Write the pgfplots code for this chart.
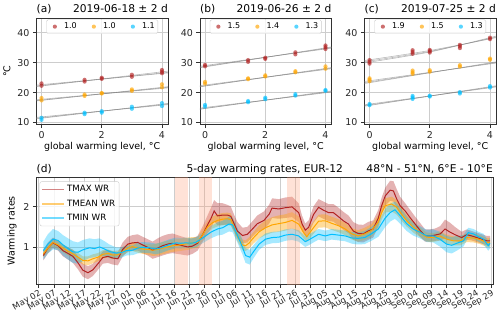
\documentclass[border=0pt]{standalone}
\usepackage{fontspec}
\setmainfont{DejaVu Sans}
\usepackage{pgfplots}
\pgfplotsset{compat=1.18}
\usepackage{pgfplotstable}
\usepgfplotslibrary{fillbetween}

\definecolor{cR}{HTML}{B22222}
\definecolor{cO}{HTML}{FFA500}
\definecolor{cB}{HTML}{00BFFF}
\definecolor{hw}{RGB}{255,160,122}
\definecolor{gridc}{RGB}{205,205,205}
\definecolor{framec}{RGB}{50,50,50}

\pgfplotstableread{
d m lo hi
1.5 0.80 0.68 0.94
3.0 0.98 0.85 1.12
4.7 1.11 0.98 1.24
6.4 1.04 0.92 1.16
8.0 0.92 0.78 1.06
9.7 0.85 0.70 1.00
11.3 0.78 0.62 0.94
13.0 0.62 0.46 0.78
14.6 0.44 0.28 0.60
16.3 0.38 0.22 0.54
17.9 0.45 0.30 0.60
19.6 0.60 0.45 0.75
21.2 0.75 0.60 0.90
22.9 0.78 0.62 0.94
24.5 0.74 0.58 0.90
26.2 0.72 0.56 0.88
27.8 0.95 0.78 1.12
29.5 1.08 0.90 1.26
31.1 1.11 0.92 1.30
32.8 1.12 0.92 1.32
34.4 1.06 0.86 1.26
36.1 1.00 0.80 1.20
37.7 0.93 0.72 1.14
39.4 0.98 0.76 1.22
41.0 1.04 0.80 1.28
42.7 1.08 0.84 1.32
44.3 1.10 0.86 1.34
45.9 1.07 0.84 1.30
47.6 1.04 0.82 1.26
49.3 1.01 0.80 1.22
50.9 1.03 0.84 1.22
52.6 1.10 0.92 1.28
54.2 1.30 1.12 1.50
55.9 1.55 1.34 1.78
57.0 1.70 1.46 1.96
58.1 1.89 1.64 2.16
59.2 1.77 1.54 2.08
60.9 1.79 1.55 2.08
62.5 1.79 1.56 2.04
63.6 1.76 1.55 2.00
64.7 1.58 1.40 1.80
65.8 1.40 1.22 1.62
67.5 1.29 1.10 1.48
69.1 1.32 1.12 1.50
70.8 1.45 1.26 1.64
72.4 1.58 1.38 1.78
74.6 1.66 1.44 1.88
76.3 1.81 1.58 2.04
77.3 1.96 1.72 2.20
79.5 1.94 1.70 2.18
81.7 1.97 1.72 2.22
83.9 1.99 1.74 2.24
86.1 1.85 1.62 2.08
87.2 1.58 1.40 1.78
88.3 1.42 1.28 1.58
89.4 1.49 1.32 1.66
91.0 1.80 1.60 2.00
92.7 1.98 1.76 2.18
94.3 1.91 1.70 2.12
96.0 1.85 1.64 2.06
97.6 1.85 1.63 2.06
99.3 1.75 1.53 1.97
100.9 1.65 1.43 1.87
102.6 1.57 1.35 1.78
104.2 1.40 1.19 1.62
105.8 1.34 1.13 1.56
107.5 1.33 1.12 1.55
109.1 1.40 1.18 1.62
110.8 1.45 1.24 1.66
112.5 1.72 1.52 1.92
113.6 2.02 1.82 2.22
114.8 2.26 2.02 2.46
116.4 2.40 2.14 2.63
117.5 2.38 2.12 2.62
118.6 2.18 1.96 2.42
119.7 2.02 1.82 2.24
121.4 1.89 1.70 2.08
123.0 1.73 1.55 1.92
124.7 1.57 1.40 1.75
126.3 1.42 1.26 1.60
128.0 1.28 1.14 1.44
129.6 1.28 1.14 1.44
131.3 1.30 1.16 1.46
133.0 1.33 1.17 1.52
134.6 1.45 1.22 1.68
136.3 1.37 1.18 1.60
137.9 1.31 1.16 1.50
140.1 1.24 1.12 1.38
141.8 1.31 1.19 1.44
143.4 1.28 1.17 1.40
145.1 1.24 1.13 1.36
146.8 1.20 1.09 1.32
148.4 1.16 1.05 1.28
149.5 1.16 1.04 1.28
}\tmax

\pgfplotstableread{
d m lo hi
1.5 0.84 0.76 0.92
3.0 0.98 0.88 1.08
4.7 1.12 1.02 1.22
6.4 1.06 0.96 1.16
8.0 0.98 0.88 1.08
9.7 0.90 0.80 1.00
11.3 0.84 0.74 0.94
13.0 0.76 0.66 0.86
14.6 0.68 0.58 0.78
16.3 0.67 0.56 0.78
17.9 0.72 0.61 0.83
19.6 0.76 0.66 0.86
21.2 0.83 0.73 0.93
22.9 0.85 0.75 0.95
24.5 0.81 0.71 0.91
26.2 0.82 0.72 0.92
27.8 0.90 0.80 1.00
29.5 0.98 0.88 1.08
31.1 1.02 0.91 1.13
32.8 0.98 0.87 1.09
34.4 0.96 0.84 1.08
36.1 0.95 0.82 1.08
37.7 0.93 0.79 1.07
39.4 0.95 0.80 1.10
41.0 0.98 0.83 1.13
42.7 1.01 0.86 1.16
44.3 1.04 0.89 1.19
45.9 1.05 0.90 1.20
47.6 1.07 0.92 1.22
49.3 1.09 0.94 1.24
50.9 1.11 0.97 1.25
52.6 1.12 0.99 1.25
54.2 1.30 1.16 1.44
55.9 1.50 1.36 1.64
57.5 1.60 1.46 1.75
59.2 1.66 1.51 1.81
60.9 1.69 1.54 1.84
62.5 1.70 1.55 1.85
63.6 1.68 1.53 1.83
64.7 1.50 1.36 1.65
65.8 1.28 1.15 1.42
67.5 1.06 0.93 1.19
68.5 1.04 0.91 1.17
69.6 1.10 0.97 1.24
71.2 1.24 1.10 1.38
73.0 1.38 1.22 1.54
75.1 1.48 1.30 1.66
77.3 1.55 1.36 1.74
79.5 1.58 1.38 1.78
81.7 1.61 1.41 1.81
83.9 1.66 1.46 1.86
86.1 1.57 1.38 1.76
87.7 1.37 1.22 1.52
88.8 1.26 1.13 1.40
91.0 1.48 1.33 1.63
92.7 1.64 1.48 1.80
94.9 1.65 1.49 1.81
97.0 1.59 1.43 1.75
99.3 1.53 1.37 1.69
101.5 1.45 1.30 1.60
103.7 1.33 1.19 1.47
105.8 1.28 1.14 1.42
108.0 1.33 1.18 1.48
110.2 1.41 1.25 1.57
112.5 1.62 1.45 1.79
113.6 1.85 1.68 2.02
114.8 2.02 1.85 2.20
116.9 2.06 1.88 2.24
118.6 1.98 1.80 2.16
120.2 1.81 1.65 1.97
121.9 1.65 1.51 1.79
124.1 1.49 1.36 1.62
126.3 1.37 1.25 1.49
128.5 1.25 1.14 1.36
130.7 1.24 1.13 1.35
132.9 1.28 1.17 1.39
135.1 1.20 1.09 1.31
137.4 1.16 1.05 1.27
139.6 1.16 1.05 1.27
141.8 1.24 1.13 1.35
144.0 1.23 1.12 1.34
146.2 1.19 1.08 1.30
148.4 1.12 1.01 1.23
149.5 1.12 1.01 1.23
}\tmean

\pgfplotstableread{
d m lo hi
1.5 0.92 0.70 1.14
3.0 1.08 0.85 1.32
4.7 1.20 0.95 1.45
6.4 1.17 0.93 1.40
8.0 1.06 0.80 1.30
9.7 0.97 0.70 1.22
11.3 0.89 0.62 1.15
13.0 0.88 0.60 1.12
14.6 0.94 0.66 1.18
16.8 0.99 0.74 1.22
18.5 0.97 0.76 1.20
20.1 1.01 0.80 1.22
21.8 0.96 0.78 1.15
23.4 0.90 0.74 1.07
25.6 0.86 0.72 1.00
27.3 0.87 0.74 1.00
28.9 0.92 0.80 1.04
31.1 0.93 0.81 1.05
32.7 0.98 0.85 1.11
34.4 1.00 0.87 1.13
36.6 0.99 0.86 1.12
38.8 0.96 0.83 1.09
40.5 0.99 0.86 1.12
43.0 1.06 0.93 1.19
45.4 1.11 0.98 1.24
47.1 1.10 0.97 1.23
48.7 1.11 0.98 1.24
50.4 1.10 0.98 1.22
52.0 1.12 1.00 1.24
54.5 1.24 1.11 1.37
57.0 1.37 1.22 1.52
59.2 1.45 1.29 1.61
60.9 1.48 1.31 1.65
63.0 1.57 1.39 1.75
64.2 1.55 1.37 1.73
65.8 1.30 1.12 1.48
67.4 1.02 0.84 1.20
68.5 0.80 0.62 0.98
69.9 0.76 0.58 0.94
71.2 0.90 0.74 1.06
73.0 1.08 0.94 1.22
75.1 1.20 1.06 1.34
77.3 1.24 1.10 1.38
79.5 1.25 1.11 1.39
81.7 1.30 1.16 1.44
83.9 1.32 1.18 1.46
86.1 1.28 1.14 1.42
88.3 1.14 1.01 1.27
89.4 1.18 1.05 1.31
91.0 1.25 1.12 1.38
92.7 1.32 1.19 1.45
94.9 1.28 1.15 1.41
97.0 1.32 1.19 1.45
99.3 1.30 1.17 1.43
101.5 1.28 1.15 1.41
103.7 1.23 1.09 1.37
105.8 1.22 1.07 1.37
108.0 1.24 1.08 1.40
110.2 1.33 1.16 1.50
112.5 1.45 1.26 1.64
114.8 1.72 1.50 1.94
116.4 1.85 1.63 2.07
118.0 1.92 1.70 2.12
119.7 1.78 1.58 1.98
121.9 1.58 1.40 1.76
124.0 1.45 1.29 1.61
126.3 1.37 1.22 1.52
128.5 1.28 1.13 1.43
130.7 1.28 1.12 1.44
132.9 1.20 1.02 1.38
135.1 1.08 0.88 1.28
136.8 1.05 0.85 1.25
138.5 1.10 0.92 1.28
140.7 1.16 1.02 1.30
142.3 1.36 1.24 1.48
144.0 1.33 1.21 1.45
145.7 1.26 1.14 1.38
147.4 1.20 1.07 1.33
148.9 1.04 0.92 1.16
149.5 1.10 0.97 1.23
}\tmin

\tikzset{ttl/.style={font=\fontsize{10.7}{12}\selectfont, inner sep=0pt}}

\pgfplotsset{
  mybase/.style={
    scale only axis,
    clip mode=individual,
    axis line style={framec, line width=0.8pt},
    tick style={framec, line width=0.8pt},
    tick align=outside,
    tick pos=left,
    major tick length=3.5pt,
    grid=major,
    major grid style={gridc, line width=0.8pt},
    /pgf/number format/assume math mode=true,
    tick label style={font=\fontsize{9.5}{10}\selectfont, text=black!85},
    label style={font=\fontsize{9.5}{10}\selectfont},
  },
  toppanel/.style={
    mybase,
    width=132pt, height=107pt,
    xmin=-0.17, xmax=4.2, ymin=9.3, ymax=45,
    xtick={0,2,4}, ytick={10,20,30,40},
    xlabel={global warming level, °C},
    xlabel style={yshift=3pt},
    legend columns=3,
    legend style={at={(0.5,0.985)}, anchor=north,
      font=\fontsize{8}{9}\selectfont, draw=gridc, rounded corners=1.5pt,
      inner sep=1.2pt, fill=white, fill opacity=0.8, text opacity=1,
      /tikz/every even column/.append style={column sep=8pt}},
  },
  gline/.style={gray, opacity=0.55, line width=0.6pt, forget plot},
  pts/.style={only marks, mark=*, mark size=2.1pt,
    mark options={draw opacity=0, fill opacity=0.65},
    legend image code/.code={\path (-7pt,-2pt) (7pt,2pt); \draw[##1] plot coordinates {(0pt,0pt)};}},
}

\begin{document}
\begin{tikzpicture}
\path (0pt,0pt) rectangle (500pt,319pt);

% ---------- (a)
\begin{axis}[toppanel, at={(35pt,194pt)}, anchor=south west, ylabel={°C}]
\addplot[gline] coordinates {(-0.2,22.2) (4.2,26.8)};
\addplot[gline] coordinates {(-0.2,22.5) (4.2,26.6)};
\addplot[gline] coordinates {(-0.2,22.0) (4.2,27.2)};
\addplot[gline] coordinates {(-0.2,17.3) (4.2,21.8)};
\addplot[gline] coordinates {(-0.2,17.6) (4.2,21.6)};
\addplot[gline] coordinates {(-0.2,17.2) (4.2,22.0)};
\addplot[gline] coordinates {(-0.2,11.4) (4.2,16.2)};
\addplot[gline] coordinates {(-0.2,11.7) (4.2,16.0)};
\addplot[gline] coordinates {(-0.2,11.2) (4.2,16.4)};
\addplot[pts, color=cR] coordinates {(0,22.3) (0,23.1) (1.43,23.7) (1.43,24.3) (2,24.6) (2,25.0) (3,25.3) (3,26.0) (4,26.5) (4,27.0) (4,27.6)};
\addlegendentry{1.0}
\addplot[pts, color=cO] coordinates {(0,17.4) (0,18.2) (1.43,18.9) (1.43,19.4) (2,19.7) (2,19.9) (3,20.6) (3,21.1) (4,21.8) (4,22.8)};
\addlegendentry{1.0}
\addplot[pts, color=cB] coordinates {(0,10.9) (0,11.6) (1.43,12.8) (1.43,13.3) (2,13.3) (2,13.8) (3,14.6) (3,15.3) (4,15.5) (4,16.5)};
\addlegendentry{1.1}
\node[ttl, anchor=base west] at (rel axis cs:0,1) [yshift=5pt] {(a)};
\node[ttl, anchor=base east] at (rel axis cs:1,1) [yshift=5pt] {2019-06-18 ± 2 d};
\end{axis}

% ---------- (b)
\begin{axis}[toppanel, at={(199pt,194pt)}, anchor=south west]
\addplot[gline] coordinates {(-0.2,28.5) (4.2,35.1)};
\addplot[gline] coordinates {(-0.2,28.8) (4.2,34.9)};
\addplot[gline] coordinates {(-0.2,28.3) (4.2,35.3)};
\addplot[gline] coordinates {(-0.2,22.0) (4.2,28.2)};
\addplot[gline] coordinates {(-0.2,22.3) (4.2,28.0)};
\addplot[gline] coordinates {(-0.2,21.9) (4.2,28.4)};
\addplot[gline] coordinates {(-0.2,14.5) (4.2,20.4)};
\addplot[gline] coordinates {(-0.2,14.8) (4.2,20.2)};
\addplot[gline] coordinates {(-0.2,14.4) (4.2,20.6)};
\addplot[pts, color=cR] coordinates {(0,28.8) (0,29.3) (1.43,30.3) (1.43,30.9) (2,31.3) (2,31.7) (3,32.8) (3,33.5) (4,34.6) (4,35.2) (4,35.8)};
\addlegendentry{1.5}
\addplot[pts, color=cO] coordinates {(0,23.0) (0,23.6) (1.43,24.5) (1.43,24.8) (2,25.4) (2,25.8) (3,26.8) (3,27.2) (4,28.0) (4,28.8)};
\addlegendentry{1.4}
\addplot[pts, color=cB] coordinates {(0,15.3) (0,15.9) (1.43,16.8) (1.43,17.2) (2,17.8) (2,18.3) (3,19.0) (3,19.5) (4,20.6) (4,20.9)};
\addlegendentry{1.3}
\node[ttl, anchor=base west] at (rel axis cs:0,1) [yshift=5pt] {(b)};
\node[ttl, anchor=base east] at (rel axis cs:1,1) [yshift=5pt] {2019-06-26 ± 2 d};
\end{axis}

% ---------- (c)
\begin{axis}[toppanel, at={(364pt,194pt)}, anchor=south west]
\addplot[gline, smooth] coordinates {(-0.2,30.3) (2,33.8) (4.2,38.6)};
\addplot[gline, smooth] coordinates {(-0.2,30.7) (2,34.1) (4.2,38.4)};
\addplot[gline, smooth] coordinates {(-0.2,29.9) (2,33.6) (4.2,38.9)};
\addplot[gline] coordinates {(-0.2,23.3) (4.2,30.1)};
\addplot[gline] coordinates {(-0.2,23.7) (4.2,29.9)};
\addplot[gline] coordinates {(-0.2,23.0) (4.2,30.3)};
\addplot[gline] coordinates {(-0.2,15.6) (4.2,22.1)};
\addplot[gline] coordinates {(-0.2,15.9) (4.2,21.9)};
\addplot[gline] coordinates {(-0.2,15.4) (4.2,22.3)};
\addplot[pts, color=cR] coordinates {(0,29.7) (0,30.3) (0,30.9) (1.43,33.0) (1.43,33.6) (1.43,34.2) (2,33.4) (2,33.9) (2,34.3) (3,34.9) (3,35.5) (3,36.0) (4,37.9) (4,38.4)};
\addlegendentry{1.9}
\addplot[pts, color=cO] coordinates {(0,23.8) (0,24.3) (0,24.8) (1.43,26.3) (1.43,26.8) (1.43,27.4) (2,27.0) (2,27.5) (3,28.7) (3,29.2) (4,31.0) (4,31.4)};
\addlegendentry{1.5}
\addplot[pts, color=cB] coordinates {(0,15.8) (0,16.2) (1.43,17.9) (1.43,18.4) (1.43,18.9) (2,18.7) (2,19.0) (3,19.7) (3,20.2) (4,21.7) (4,22.2)};
\addlegendentry{1.3}
\node[ttl, anchor=base west] at (rel axis cs:0,1) [yshift=5pt] {(c)};
\node[ttl, anchor=base east] at (rel axis cs:1,1) [yshift=5pt] {2019-07-25 ± 2 d};
\end{axis}

% ---------- (d)
\begin{axis}[mybase, at={(35pt,34pt)}, anchor=south west,
  width=458pt, height=107pt,
  xmin=-0.8, xmax=150.5, ymin=0.1, ymax=2.71,
  xtick={0,5,...,150}, ytick={1,2},
  xticklabels={May 02,May 07,May 12,May 17,May 22,May 27,Jun 01,Jun 06,Jun 11,Jun 16,Jun 21,Jun 26,Jul 01,Jul 06,Jul 11,Jul 16,Jul 21,Jul 26,Jul 31,Aug 05,Aug 10,Aug 15,Aug 20,Aug 25,Aug 30,Sep 04,Sep 09,Sep 14,Sep 19,Sep 24,Sep 29},
  xticklabel style={rotate=30, anchor=north east, font=\fontsize{8.5}{9}\selectfont, inner sep=1pt},
  ylabel={Warming rates},
  legend style={at={(0.007,0.963)}, anchor=north west,
    font=\fontsize{8.7}{10}\selectfont, draw=gridc, rounded corners=2pt,
    fill=white, fill opacity=0.8, text opacity=1, inner sep=2pt, row sep=2.5pt},
  legend cell align=left,
  legend image code/.code={\draw[#1, line width=1.4pt, draw opacity=0.55] (0pt,0pt) -- (22pt,0pt);},
]
\addplot[fill=hw, fill opacity=0.3, draw=none, forget plot] coordinates {(45,0) (45,3) (49.3,3) (49.3,0)} -- cycle;
\addplot[fill=hw, fill opacity=0.3, draw=none, forget plot] coordinates {(53.2,0) (53.2,3) (57.5,3) (57.5,0)} -- cycle;
\addplot[fill=hw, fill opacity=0.3, draw=none, forget plot] coordinates {(82.2,0) (82.2,3) (86.5,3) (86.5,0)} -- cycle;

\addplot[draw=none, name path=rU, forget plot] table[x=d, y=hi] {\tmax};
\addplot[draw=none, name path=rL, forget plot] table[x=d, y=lo] {\tmax};
\addplot[fill=cR, fill opacity=0.35, draw=none, forget plot] fill between[of=rU and rL];
\addplot[draw=none, name path=oU, forget plot] table[x=d, y=hi] {\tmean};
\addplot[draw=none, name path=oL, forget plot] table[x=d, y=lo] {\tmean};
\addplot[fill=cO, fill opacity=0.4, draw=none, forget plot] fill between[of=oU and oL];
\addplot[draw=none, name path=bU, forget plot] table[x=d, y=hi] {\tmin};
\addplot[draw=none, name path=bL, forget plot] table[x=d, y=lo] {\tmin};
\addplot[fill=cB, fill opacity=0.35, draw=none, forget plot] fill between[of=bU and bL];

\addplot[cR, line width=1pt] table[x=d, y=m] {\tmax};
\addlegendentry{TMAX WR}
\addplot[cO, line width=1pt] table[x=d, y=m] {\tmean};
\addlegendentry{TMEAN WR}
\addplot[cB, line width=1pt] table[x=d, y=m] {\tmin};
\addlegendentry{TMIN WR}

\node[ttl, anchor=base west] at (rel axis cs:0,1) [yshift=5pt] {(d)};
\node[ttl, anchor=base] at (rel axis cs:0.5,1) [yshift=5pt] {5-day warming rates, EUR-12};
\node[ttl, anchor=base east] at (rel axis cs:1,1) [yshift=5pt] {48°N - 51°N, 6°E - 10°E};
\end{axis}
\end{tikzpicture}
\end{document}
